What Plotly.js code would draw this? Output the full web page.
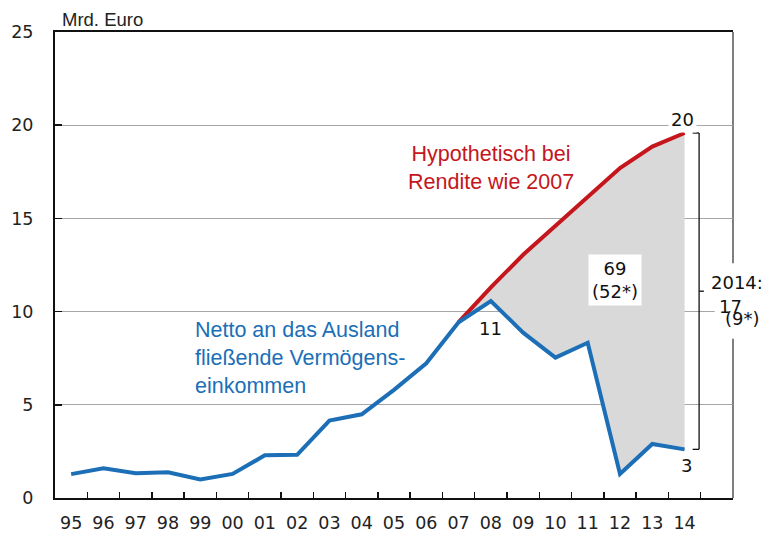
<!DOCTYPE html>
<html>
<head>
<meta charset="utf-8">
<script src="https://cdn.plot.ly/plotly-3.0.1.min.js"></script>
<style>html,body{margin:0;padding:0;background:#fff;}#chart{width:771px;height:533px;}</style>
</head>
<body>
<div id="chart"></div>
<script>
// Data
var years = ["95","96","97","98","99","00","01","02","03","04","05","06","07","08","09","10","11","12","13","14"];
var netto = [1.28, 1.59, 1.33, 1.38, 1.0, 1.29, 2.29, 2.32, 4.15, 4.49, 5.8, 7.23, 9.43, 10.57, 8.87, 7.53, 8.33, 1.29, 2.9, 2.61];
var hypoYears = ["07","08","09","10","11","12","13","14"];
var hypo = [9.43, 11.3, 13.05, 14.6, 16.2, 17.7, 18.85, 19.58];

var TEXTFONT = "Liberation Sans, Arial, sans-serif";
var NUMFONT = "DejaVu Sans, sans-serif";
var BLUE = "#1c6fb6";
var RED = "#c4161c";

var startIdx = years.indexOf(hypoYears[0]);
var nettoSeg = netto.slice(startIdx);
var lastIdx = years.length - 1;
var lastHypo = hypo[hypo.length - 1];
var lastNetto = netto[netto.length - 1];

var traces = [
  {x: hypoYears, y: nettoSeg, type: "scatter", mode: "lines", line: {width: 0, color: "rgba(0,0,0,0)"}, hoverinfo: "skip", showlegend: false},
  {x: hypoYears, y: hypo, type: "scatter", mode: "lines", fill: "tonexty", fillcolor: "#d9d9d9", line: {color: RED, width: 4}, hoverinfo: "skip", showlegend: false},
  {x: years, y: netto, type: "scatter", mode: "lines", line: {color: BLUE, width: 4}, hoverinfo: "skip", showlegend: false}
];

var bx = lastIdx + 0.45;
var shapes = [
  {type: "line", xref: "paper", yref: "paper", x0: 1, x1: 1, y0: 0, y1: 1, line: {color: "#555", width: 1.5}, layer: "below"},
  {type: "line", xref: "x", yref: "y", x0: bx, x1: bx, y0: lastNetto, y1: lastHypo, line: {color: "#111", width: 1.3}},
  {type: "line", xref: "x", yref: "y", x0: bx - 0.2, x1: bx, y0: lastHypo, y1: lastHypo, line: {color: "#111", width: 1.3}},
  {type: "line", xref: "x", yref: "y", x0: bx - 0.2, x1: bx, y0: lastNetto, y1: lastNetto, line: {color: "#111", width: 1.3}},
  {type: "line", xref: "x", yref: "y", x0: bx, x1: bx + 0.15, y0: (lastHypo + lastNetto) / 2, y1: (lastHypo + lastNetto) / 2, line: {color: "#111", width: 1.3}},
  {type: "rect", xref: "paper", yref: "y", x0: 0.973, x1: 1.07, y0: 8.55, y1: 12.6, fillcolor: "#fff", line: {width: 0}, layer: "above"}
];

var ann = [
  {xref: "paper", yref: "paper", x: 0.008, y: 1.026, xanchor: "left", yanchor: "middle", text: "Mrd. Euro", showarrow: false, font: {family: TEXTFONT, size: 18.5, color: "#222"}},
  {x: 13.0, y: 17.7, text: "Hypothetisch bei<br>Rendite wie 2007", showarrow: false, xanchor: "center", yanchor: "middle", align: "center", font: {family: TEXTFONT, size: 21.5, color: RED}},
  {x: 3.77, y: 7.5, text: "Netto an das Ausland<br>fließende Vermögens-<br>einkommen", showarrow: false, xanchor: "left", yanchor: "middle", align: "left", font: {family: TEXTFONT, size: 21.5, color: BLUE}},
  {x: 12.99, y: 9.12, text: "11", showarrow: false, font: {family: NUMFONT, size: 18, color: "#111"}},
  {x: 16.85, y: 11.7, text: "69<br>(52*)", showarrow: false, align: "center", bgcolor: "#fff", borderpad: 3, font: {family: NUMFONT, size: 18, color: "#111"}},
  {x: 18.94, y: 20.28, text: "20", showarrow: false, bgcolor: "#fff", borderpad: 2, font: {family: NUMFONT, size: 18, color: "#111"}},
  {x: 19.06, y: 1.77, text: "3", showarrow: false, font: {family: NUMFONT, size: 18, color: "#111"}},
  {xref: "paper", x: 1.006, xanchor: "center", y: 11.55, text: "2014:", showarrow: false, font: {family: NUMFONT, size: 18, color: "#111"}},
  {xref: "paper", x: 0.9956, xanchor: "center", y: 10.30, text: "17", showarrow: false, font: {family: NUMFONT, size: 18, color: "#111"}},
  {xref: "paper", x: 1.0147, xanchor: "center", y: 9.64, text: "(9*)", showarrow: false, font: {family: NUMFONT, size: 18, color: "#111"}}
];

var layout = {
  width: 771, height: 533,
  margin: {l: 55, r: 38, t: 32, b: 35},
  paper_bgcolor: "#fff", plot_bgcolor: "#fff",
  showlegend: false,
  font: {family: NUMFONT, size: 17.5, color: "#222"},
  xaxis: {
    type: "category", categoryorder: "array", categoryarray: years,
    range: [-0.5, 20.5], tickson: "boundaries", ticks: "inside", ticklen: 6, tickwidth: 1.5, tickcolor: "#111",
    showline: true, linecolor: "#111", linewidth: 2, mirror: true, showgrid: false, zeroline: false,
    tickfont: {family: NUMFONT, size: 17.5, color: "#222"}, ticklabelstandoff: 8, fixedrange: true
  },
  yaxis: {
    range: [0, 25], tickvals: [0, 5, 10, 15, 20, 25], ticks: "inside", ticklen: 7, tickwidth: 1.5, tickcolor: "#111",
    showline: true, linecolor: "#111", linewidth: 2, showgrid: true, gridcolor: "#a6a6a6", gridwidth: 1, zeroline: false,
    tickfont: {family: NUMFONT, size: 17.5, color: "#222"}, ticklabelstandoff: 16, fixedrange: true
  },
  shapes: shapes,
  annotations: ann
};

Plotly.newPlot("chart", traces, layout, {displayModeBar: false, staticPlot: true});
</script>
</body>
</html>
